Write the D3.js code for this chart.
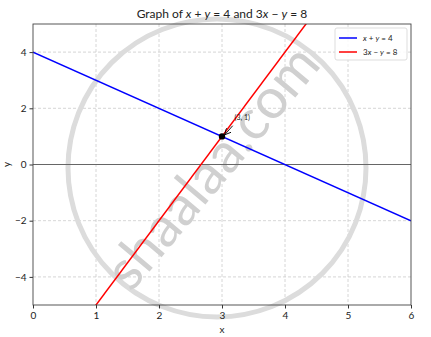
<!DOCTYPE html>
<html>
<head>
<meta charset="utf-8">
<script src="https://cdn.jsdelivr.net/npm/d3@7"></script>
<style>
  body { margin: 0; background: #fff; }
  text { font-family: Lato, "Open Sans", sans-serif; fill: #222; }
</style>
</head>
<body>
<svg id="chart" width="431" height="337"></svg>
<script>
// data
var xTicks = [0, 1, 2, 3, 4, 5, 6];
var yTicks = [-4, -2, 0, 2, 4];
var lineA = [{ x: 0, y: 4 }, { x: 6, y: -2 }];   // x + y = 4
var lineB = [{ x: 0, y: -8 }, { x: 6, y: 10 }];  // 3x - y = 8
var meet = { x: 3, y: 1, label: "(3, 1)" };

var svg = d3.select("#chart");
var width = +svg.attr("width");
var height = +svg.attr("height");
var margin = { top: 24, right: 20, bottom: 32, left: 33 };

var x = d3.scaleLinear().domain([0, 6]).range([margin.left, width - margin.right]);
var y = d3.scaleLinear().domain([-5, 5]).range([height - margin.bottom, margin.top]);

svg.append("defs").append("clipPath").attr("id", "plot")
  .append("rect")
  .attr("x", x(0)).attr("y", y(5))
  .attr("width", x(6) - x(0)).attr("height", y(-5) - y(5));

// grid
var grid = svg.append("g");
grid.selectAll(".gx").data(xTicks.slice(1, -1)).enter().append("line")
  .attr("x1", d => x(d)).attr("x2", d => x(d))
  .attr("y1", y(5)).attr("y2", y(-5))
  .attr("stroke", "#ccc").attr("stroke-width", 0.8).attr("stroke-dasharray", "3,2");
grid.selectAll(".gy").data(yTicks).enter().append("line")
  .attr("x1", x(0)).attr("x2", x(6))
  .attr("y1", d => y(d)).attr("y2", d => y(d))
  .attr("stroke", "#ccc").attr("stroke-width", 0.8).attr("stroke-dasharray", "3,2");

// watermark
var wm = svg.append("g");
wm.append("circle")
  .attr("cx", 217).attr("cy", 168).attr("r", 149)
  .attr("fill", "none").attr("stroke", "#dcdcdc").attr("stroke-width", 5);
wm.append("text")
  .attr("transform", "translate(216,170) rotate(-50)")
  .attr("text-anchor", "middle").attr("dominant-baseline", "middle")
  .style("font-family", "Lato, sans-serif")
  .style("font-weight", "400")
  .style("font-size", "56px")
  .style("fill", "#d0d0d0")
  .text("shaalaa.com");

// zero line
svg.append("line")
  .attr("x1", x(0)).attr("x2", x(6))
  .attr("y1", y(0)).attr("y2", y(0))
  .attr("stroke", "#666").attr("stroke-width", 1.1);

var line = d3.line().x(d => x(d.x)).y(d => y(d.y));
var plot = svg.append("g").attr("clip-path", "url(#plot)");
plot.append("path").datum(lineA).attr("d", line)
  .attr("fill", "none").attr("stroke", "#0000ff").attr("stroke-width", 1.5);
plot.append("path").datum(lineB).attr("d", line)
  .attr("fill", "none").attr("stroke", "#ff0000").attr("stroke-width", 1.5);

// intersection
svg.append("defs").append("marker")
  .attr("id", "arr").attr("viewBox", "0 0 10 10")
  .attr("refX", 9).attr("refY", 5)
  .attr("markerWidth", 7).attr("markerHeight", 7)
  .attr("orient", "auto")
  .append("path").attr("d", "M0,0 L10,5 L0,10").attr("fill", "none").attr("stroke", "#000").attr("stroke-width", 1.4);
svg.append("line")
  .attr("x1", x(meet.x + 0.17)).attr("y1", y(meet.y + 0.38))
  .attr("x2", x(meet.x) + 3).attr("y2", y(meet.y) - 2)
  .attr("stroke", "#000").attr("stroke-width", 0.9)
  .attr("marker-end", "url(#arr)");
svg.append("circle")
  .attr("cx", x(meet.x)).attr("cy", y(meet.y)).attr("r", 3.2)
  .attr("fill", "#000");
svg.append("text")
  .attr("x", x(meet.x + 0.2)).attr("y", y(meet.y + 0.58))
  .style("font-size", "7px")
  .text(meet.label);

// axes
var xAxis = svg.append("g")
  .attr("transform", "translate(0," + y(-5) + ")")
  .call(d3.axisBottom(x).tickValues(xTicks).tickSize(3.5).tickPadding(3).tickFormat(d3.format("d")));
var yAxis = svg.append("g")
  .attr("transform", "translate(" + x(0) + ",0)")
  .call(d3.axisLeft(y).tickValues(yTicks).tickSize(3.5).tickPadding(3)
    .tickFormat(d => d < 0 ? "\u2212" + Math.abs(d) : d));
[xAxis, yAxis].forEach(a => {
  a.selectAll("text").style("font-size", "10px").style("fill", "#222");
  a.selectAll("line").attr("stroke", "#333");
  a.select(".domain").remove();
});

// frame
svg.append("rect")
  .attr("x", x(0)).attr("y", y(5))
  .attr("width", x(6) - x(0)).attr("height", y(-5) - y(5))
  .attr("fill", "none").attr("stroke", "#444").attr("stroke-width", 0.9);

// labels
svg.append("text").attr("x", (x(0) + x(6)) / 2).attr("y", height - 4)
  .attr("text-anchor", "middle").style("font-size", "10px").text("x");
svg.append("text")
  .attr("transform", "translate(10," + y(0) + ") rotate(-90)")
  .attr("text-anchor", "middle").style("font-size", "10px").text("y");

var title = svg.append("text").attr("x", (x(0) + x(6)) / 2).attr("y", 18)
  .attr("text-anchor", "middle").style("font-size", "12px");
title.append("tspan").text("Graph of ");
title.append("tspan").style("font-style", "italic").text("x");
title.append("tspan").text(" + ");
title.append("tspan").style("font-style", "italic").text("y");
title.append("tspan").text(" = 4 and 3");
title.append("tspan").style("font-style", "italic").text("x");
title.append("tspan").text(" \u2212 ");
title.append("tspan").style("font-style", "italic").text("y");
title.append("tspan").text(" = 8");

// legend
var legend = svg.append("g").attr("transform", "translate(" + (x(6) - 76) + "," + (y(5) + 4) + ")");
legend.append("rect").attr("width", 72).attr("height", 32).attr("rx", 2)
  .attr("fill", "#fff").attr("fill-opacity", 0.85).attr("stroke", "#ddd");
var items = [
  { color: "#0000ff", parts: [["x", 1], [" + ", 0], ["y", 1], [" = 4", 0]] },
  { color: "#ff0000", parts: [["3", 0], ["x", 1], [" \u2212 ", 0], ["y", 1], [" = 8", 0]] }
];
items.forEach((it, i) => {
  var gy = 10 + i * 14;
  legend.append("line").attr("x1", 4).attr("x2", 22).attr("y1", gy).attr("y2", gy)
    .attr("stroke", it.color).attr("stroke-width", 1.5);
  var t = legend.append("text").attr("x", 28).attr("y", gy + 3).style("font-size", "8px");
  it.parts.forEach(p => t.append("tspan").style("font-style", p[1] ? "italic" : "normal").text(p[0]));
});
</script>
</body>
</html>
